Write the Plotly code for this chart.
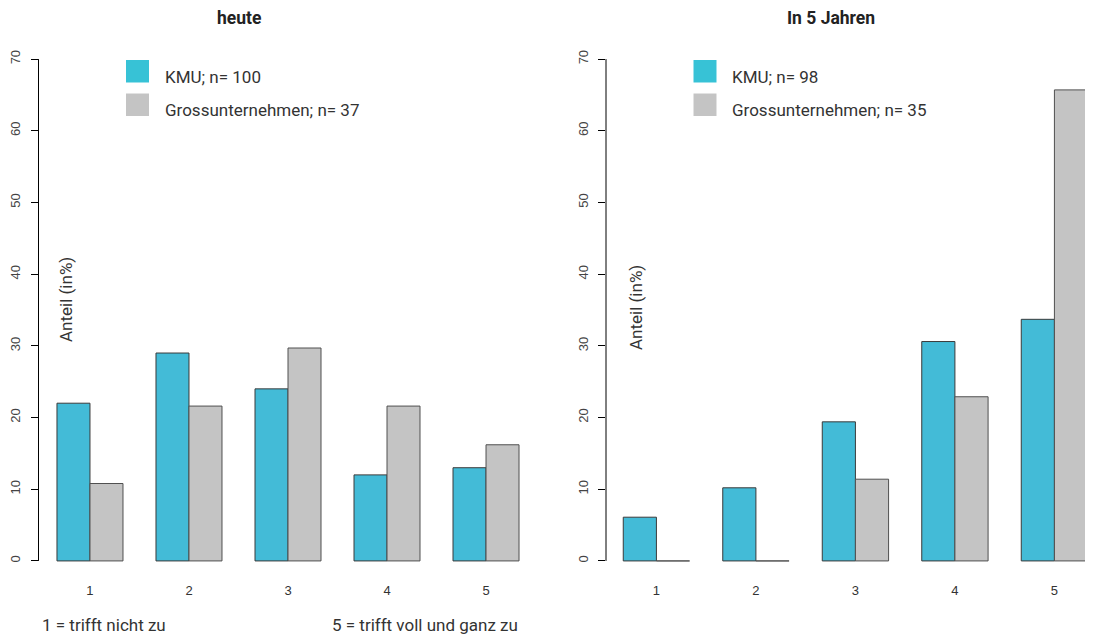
import plotly.graph_objects as go

# ---------------- data ----------------
categories = ["1", "2", "3", "4", "5"]
kmu_heute = [22.0, 29.0, 24.0, 12.0, 13.0]
gross_heute = [10.8, 21.6, 29.7, 21.6, 16.2]
kmu_5jahre = [6.1, 10.2, 19.4, 30.6, 33.7]
gross_5jahre = [0.0, 0.0, 11.4, 22.9, 65.7]

titles = ["heute", "In 5 Jahren"]
legend_heute = ["KMU; n= 100", "Grossunternehmen; n= 37"]
legend_5jahre = ["KMU; n= 98", "Grossunternehmen; n= 35"]
y_ticks = [0, 10, 20, 30, 40, 50, 60, 70]
y_label = "Anteil (in%)"
foot_left = "1 = trifft nicht zu"
foot_right = "5 = trifft voll und ganz zu"

# ---------------- style ----------------
OFF = 8                      # page body margin of the browser
W, H = 1093 - OFF, 636 - OFF
BLUE = "#43BBD7"
BLUE_LEG = "#37C2D6"
GREY = "#C4C4C4"
EDGE = "#3a3a3a"
TXT_FONT = "Roboto"


def px(x):
    return (x - OFF) / W


def py(y):
    return 1 - (y - OFF) / H


fig = go.Figure()

panels = [
    ("x", "y", kmu_heute, gross_heute),
    ("x2", "y2", kmu_5jahre, gross_5jahre),
]
for xa, ya, kmu, gross in panels:
    fig.add_trace(go.Bar(x=categories, y=kmu, xaxis=xa, yaxis=ya,
                         marker=dict(color=BLUE, line=dict(color=EDGE, width=1)),
                         showlegend=False, hoverinfo="y"))
    fig.add_trace(go.Bar(x=categories, y=gross, xaxis=xa, yaxis=ya,
                         marker=dict(color=GREY, line=dict(color="#505050", width=1)),
                         showlegend=False, hoverinfo="y"))

yax = dict(range=[-2.8, 72.8], domain=[py(581), py(39)], showgrid=False, zeroline=False,
           showline=False, ticks="outside", ticklen=7, tickwidth=1, tickcolor="black",
           tickvals=y_ticks, tickangle=-90,
           tickfont=dict(family="Liberation Sans, Arial", size=13, color="#444"),
           ticklabelstandoff=5)
xax = dict(type="category", showgrid=False, zeroline=False, showline=False, ticks="",
           tickfont=dict(family="Liberation Sans, Arial", size=13, color="#333"))

right_end = 1093
fig.update_layout(
    width=W, height=H,
    margin=dict(l=0, r=0, t=0, b=0),
    paper_bgcolor="white", plot_bgcolor="white",
    barmode="group", bargap=1 / 3, bargroupgap=0,
    xaxis=dict(xax, domain=[px(38.5), px(537.5)], range=[-0.52, 4.52], anchor="y"),
    yaxis=dict(yax, anchor="x"),
    xaxis2=dict(xax, domain=[px(606), px(right_end)],
                range=[-0.5067, -0.5067 + (right_end - 606) / 99.5], anchor="y2"),
    yaxis2=dict(yax, anchor="x2"),
)

shapes = []
annotations = []
panel_left = [38.5, 606]
for i, (xref, yref) in enumerate([("x", "y"), ("x2", "y2")]):
    # y axis line from first to last tick
    shapes.append(dict(type="line", xref=f"{xref} domain", yref=yref,
                       x0=0, x1=0, y0=y_ticks[0], y1=y_ticks[-1],
                       line=dict(color="black", width=1)))
    left = panel_left[i]
    # legend squares
    leg = legend_heute if i == 0 else legend_5jahre
    for j, (col, txt) in enumerate(zip([BLUE_LEG, GREY], leg)):
        top = 60 + j * 33.5
        shapes.append(dict(type="rect", xref="paper", yref="paper",
                           x0=px(left + 87.5), x1=px(left + 110.5),
                           y0=py(top + 22.5), y1=py(top),
                           fillcolor=col, line=dict(width=0)))
        annotations.append(dict(text=txt, xref="paper", yref="paper",
                                x=px(left + 124), y=py(top + 16.5),
                                xanchor="left", yanchor="middle", showarrow=False,
                                font=dict(family=TXT_FONT, size=17, color="#333")))
    # title
    annotations.append(dict(text=f"<b>{titles[i]}</b>", xref="paper", yref="paper",
                            x=px(left + (200.5 if i == 0 else 224.5)), y=py(18),
                            xanchor="center", yanchor="middle", showarrow=False,
                            borderpad=0,
                            font=dict(family=TXT_FONT, size=17.5, color="#222")))
    # y label
    annotations.append(dict(text=y_label, xref="paper", yref="paper",
                            x=px(left + 27.5 if i == 0 else left + 30), y=py(300 if i == 0 else 308),
                            xanchor="center", yanchor="middle", textangle=-90,
                            showarrow=False,
                            font=dict(family=TXT_FONT, size=17, color="#333")))

annotations.append(dict(text=foot_left, xref="paper", yref="paper", x=px(40), y=py(625),
                        xanchor="left", yanchor="middle", showarrow=False,
                        font=dict(family=TXT_FONT, size=17, color="#333")))
annotations.append(dict(text=foot_right, xref="paper", yref="paper", x=px(330), y=py(625),
                        xanchor="left", yanchor="middle", showarrow=False,
                        font=dict(family=TXT_FONT, size=17, color="#333")))

fig.update_layout(shapes=shapes, annotations=annotations)
fig.write_html("out.html")
